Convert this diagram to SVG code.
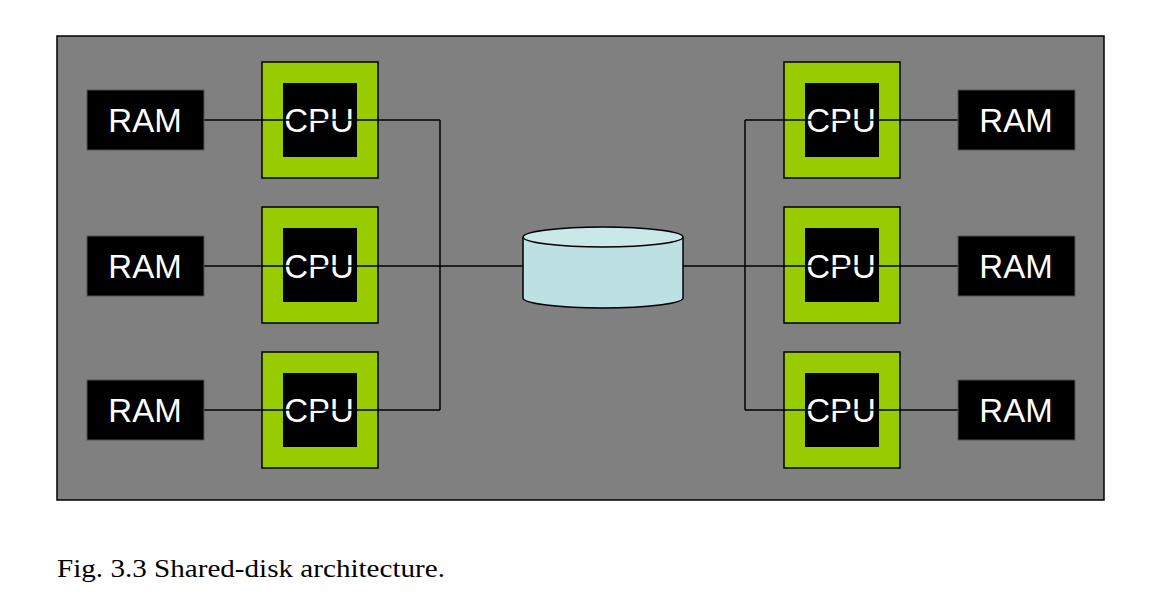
<svg xmlns="http://www.w3.org/2000/svg" width="1151" height="611" viewBox="0 0 1151 611">
<style>
.ram{fill:#000;stroke:#555;stroke-width:1}
.cpuo{fill:#99cc00;stroke:#000;stroke-width:1.5}
.cpui{fill:#000}
.t{font-family:"Liberation Sans",Arial,sans-serif;font-size:33px;fill:#fff;text-anchor:middle}
.w{fill:none;stroke:#000;stroke-width:1.5}
</style>
<rect width="1151" height="611" fill="#fff"/>
<rect x="57" y="36" width="1047" height="464" fill="#808080" stroke="#000" stroke-width="1.5"/>
<g id="connectors" class="w">
<path d="M204 120H440M204 266H440M204 410H440M440 120V410M440 266H523"/>
<path d="M958 120H745M958 266H745M958 410H745M745 120V410M745 266H683"/>
</g>
<g id="cpu1"><rect class="cpuo" x="262" y="62" width="116" height="116"/><rect class="cpui" x="283" y="83" width="74" height="74"/><text class="t" x="319" y="132">CPU</text></g>
<g id="cpu2"><rect class="cpuo" x="262" y="207" width="116" height="116"/><rect class="cpui" x="283" y="228" width="74" height="74"/><text class="t" x="319" y="278">CPU</text></g>
<g id="cpu3"><rect class="cpuo" x="262" y="352" width="116" height="116"/><rect class="cpui" x="283" y="373" width="74" height="74"/><text class="t" x="319" y="422">CPU</text></g>
<g id="cpu4"><rect class="cpuo" x="784" y="62" width="116" height="116"/><rect class="cpui" x="805" y="83" width="74" height="74"/><text class="t" x="841" y="132">CPU</text></g>
<g id="cpu5"><rect class="cpuo" x="784" y="207" width="116" height="116"/><rect class="cpui" x="805" y="228" width="74" height="74"/><text class="t" x="841" y="278">CPU</text></g>
<g id="cpu6"><rect class="cpuo" x="784" y="352" width="116" height="116"/><rect class="cpui" x="805" y="373" width="74" height="74"/><text class="t" x="841" y="422">CPU</text></g>
<g class="w"><path d="M262 120H378M262 266H378M262 410H378M784 120H900M784 266H900M784 410H900"/></g>
<g id="ram1"><rect class="ram" x="87" y="90" width="117" height="60"/><text class="t" x="145" y="132">RAM</text></g>
<g id="ram2"><rect class="ram" x="87" y="236" width="117" height="60"/><text class="t" x="145" y="278">RAM</text></g>
<g id="ram3"><rect class="ram" x="87" y="380" width="117" height="60"/><text class="t" x="145" y="422">RAM</text></g>
<g id="ram4"><rect class="ram" x="958" y="90" width="117" height="60"/><text class="t" x="1016" y="132">RAM</text></g>
<g id="ram5"><rect class="ram" x="958" y="236" width="117" height="60"/><text class="t" x="1016" y="278">RAM</text></g>
<g id="ram6"><rect class="ram" x="958" y="380" width="117" height="60"/><text class="t" x="1016" y="422">RAM</text></g>
<g id="disk">
<path d="M523 237V298A80 10 0 0 0 683 298V237" fill="#bde0e3" stroke="#000" stroke-width="1.5"/>
<ellipse cx="603" cy="237" rx="80" ry="10" fill="#c9e8ea" stroke="#000" stroke-width="1.5"/>
</g>
<text x="57" y="577" font-family="'Liberation Serif','DejaVu Serif',serif" font-size="25" fill="#000" textLength="388" lengthAdjust="spacingAndGlyphs">Fig. 3.3  Shared-disk architecture.</text>
</svg>
